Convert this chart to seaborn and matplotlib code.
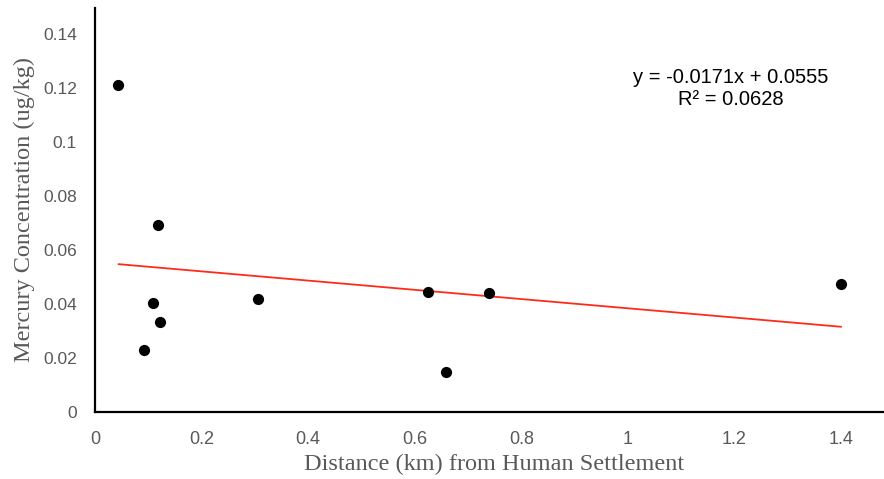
import matplotlib
matplotlib.use("Agg")
import matplotlib.pyplot as plt
import seaborn as sns
import numpy as np
import pandas as pd

distance_km = [0.044, 0.092, 0.108, 0.118, 0.122, 0.305, 0.624, 0.659, 0.739, 1.40]
mercury = [0.1211, 0.0228, 0.0405, 0.0693, 0.0332, 0.0420, 0.0443, 0.0147, 0.0441, 0.0474]
slope = -0.0171
intercept = 0.0555
r_squared = 0.0628
x_ticks = [0, 0.2, 0.4, 0.6, 0.8, 1, 1.2, 1.4]
x_tick_labels = ["0", "0.2", "0.4", "0.6", "0.8", "1", "1.2", "1.4"]
y_ticks = [0, 0.02, 0.04, 0.06, 0.08, 0.1, 0.12, 0.14]
y_tick_labels = ["0", "0.02", "0.04", "0.06", "0.08", "0.1", "0.12", "0.14"]

sns.set_style("white")
fig = plt.figure(figsize=(8.84, 4.79), dpi=100)
ax = fig.add_axes([95/884, 1-412/479, 1-95/884+0.01, (412-8)/479])

df = pd.DataFrame({"x": distance_km, "y": mercury})
xs = np.array([min(distance_km), max(distance_km)])
trend = pd.DataFrame({"x": xs, "y": slope * xs + intercept})

sns.lineplot(data=trend, x="x", y="y", ax=ax, color="#ff2a1a", linewidth=1.3, zorder=2)
sns.scatterplot(data=df, x="x", y="y", ax=ax, color="black", s=65, edgecolor="black", linewidth=0, zorder=3)

ax.set_xlim(0, 1.497)
ax.set_ylim(0, 0.1496)
ax.set_xticks(x_ticks)
ax.set_xticklabels(x_tick_labels, family=["Liberation Sans Narrow", "Liberation Sans", "DejaVu Sans"], fontsize=13, color="#595959")
ax.set_yticks(y_ticks)
ax.set_yticklabels(y_tick_labels, family=["Liberation Sans", "DejaVu Sans"], fontsize=12.5, color="#595959")
ax.tick_params(axis="x", length=0, pad=14)
ax.tick_params(axis="y", length=0, pad=13)

for s in ["top", "right"]:
    ax.spines[s].set_visible(False)
for s in ["left", "bottom"]:
    ax.spines[s].set_color("black")
    ax.spines[s].set_linewidth(1.6)

ax.set_xlabel("Distance (km) from Human Settlement", family=["Liberation Serif", "DejaVu Serif"], fontsize=17.5, color="#595959", labelpad=4)
ax.set_ylabel("Mercury Concentration (ug/kg)", family=["Liberation Serif", "DejaVu Serif"], fontsize=17.5, color="#595959", labelpad=6)

ax.text(1.193, 0.1198, f"y = {slope}x + {intercept}\nR² = {r_squared}", ha="center", va="center",
        family=["Liberation Sans", "DejaVu Sans"], fontsize=14.5, color="black", linespacing=1.25)

fig.savefig("out.png", dpi=100)
